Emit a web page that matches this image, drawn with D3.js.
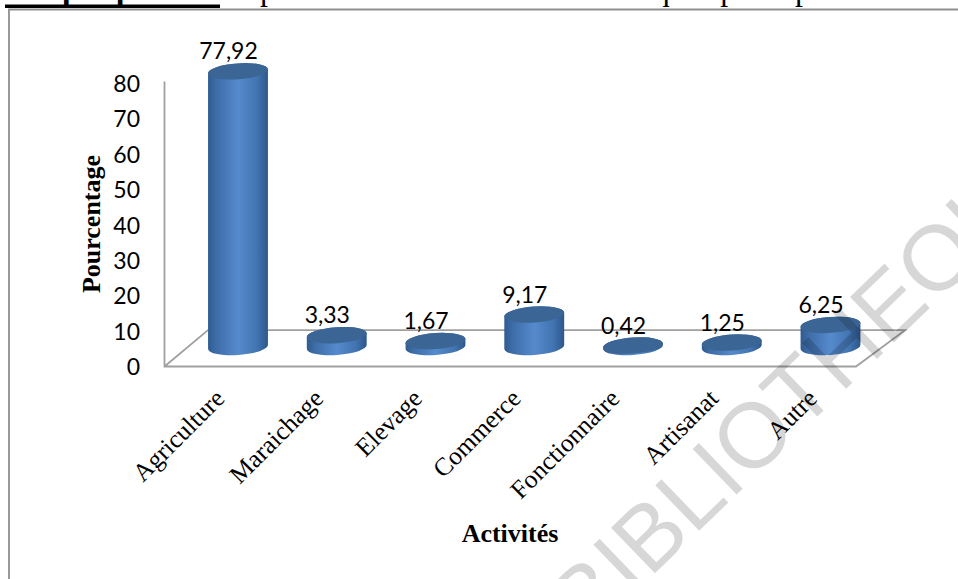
<!DOCTYPE html>
<html>
<head>
<meta charset="utf-8">
<script src="https://cdn.jsdelivr.net/npm/d3@7/dist/d3.min.js"></script>
<style>
html,body{margin:0;padding:0;background:#fff;overflow:hidden}
svg{display:block}
</style>
</head>
<body>
<svg id="chart" width="958" height="579"></svg>
<script>
// Activity shares (percent) shown as 3D-style cylinders
const categories = ["Agriculture","Maraichage","Elevage","Commerce","Fonctionnaire","Artisanat","Autre"];
const values = [77.92,3.33,1.67,9.17,0.42,1.25,6.25];
const yTicks = [0,10,20,30,40,50,60,70,80];
const captionLead = "Graphique n°3:";
const captionRest = "Importance des activités économiques principales dans le";
const stampText = "BIBLIOTHEQUE";

const serif = "'Liberation Serif','Times New Roman',serif";
const sans = "Lato,'Open Sans',sans-serif";

const svg = d3.select("#chart");
const y = d3.scaleLinear().domain([0,80]).range([366.5,83.5]);
const x = d3.scalePoint().domain(categories).range([238,830.5]);

// Floor depth and cylinder geometry
const depth = 19.5, rx = 30, ry = 8, tilt = 4;
const dx = rx*Math.cos(tilt*Math.PI/180), dy = rx*Math.sin(tilt*Math.PI/180);

const defs = svg.append("defs");
const side = defs.append("linearGradient").attr("id","side");
[[0,"#2f5b90"],[.14,"#3e6da8"],[.5,"#558acd"],[.82,"#4174b0"],[1,"#2d578a"]]
  .forEach(([o,c])=>side.append("stop").attr("offset",o).attr("stop-color",c));

// Caption running off the top edge of the page
svg.append("text").attr("x",7).attr("y",0)
  .style("font",`bold 32px ${serif}`).attr("fill","#000").text(captionLead);
svg.append("rect").attr("x",5).attr("y",4.5).attr("width",215).attr("height",3.5).attr("fill","#000");
svg.append("text").attr("x",224.5).attr("y",0)
  .style("font",`32px ${serif}`).attr("fill","#000").text(captionRest);

// Outer frame, open towards the right and bottom edges
svg.append("path").attr("d","M9,590V9.5H970").attr("fill","none")
  .attr("stroke","#8e8e8e").attr("stroke-width",1.8);

// Back wall and floor
const wallX = 164.5, wallBack = 208, floorRight = 856, floorTip = 905;
const backY = y(10)-1;
const wall = svg.append("g").attr("fill","none").attr("stroke","#a0a0a0").attr("stroke-width",1.8);
wall.append("path").attr("d",`M${wallX},${y(80)-2}V${y(0)}H${floorRight}L${floorTip},${backY}H${wallBack}L${wallX},${y(0)}`);

// Tick labels
const axis = d3.axisLeft(y).tickValues(yTicks).tickSize(0).tickPadding(0);
const axisG = svg.append("g").attr("transform","translate(140,0)").call(axis);
axisG.select(".domain").remove();
axisG.selectAll("text").style("font",`23px ${sans}`).attr("fill","#000").attr("dy","0.35em");

// Cylinders
const bars = svg.append("g").selectAll("g").data(values).join("g");
bars.append("path")
  .attr("fill","url(#side)")
  .attr("d",(d,i)=>{
    const cx = x(categories[i]), b = y(0)-depth, t = b-(y(0)-y(d));
    return `M${cx-dx},${t+dy}A${rx},${ry} ${-tilt} 0 1 ${cx+dx},${t-dy}`+
           `V${b-dy}A${rx},${ry} ${-tilt} 0 1 ${cx-dx},${b+dy}Z`;
  });
bars.append("ellipse")
  .attr("fill","#3b6595")
  .attr("rx",rx).attr("ry",ry)
  .attr("transform",(d,i)=>`translate(${x(categories[i])},${y(d)-depth}) rotate(${-tilt})`);

// Value labels above each cylinder
svg.append("g").selectAll("text").data(values).join("text")
  .attr("text-anchor","middle")
  .attr("x",(d,i)=>x(categories[i])-9.5)
  .attr("y",d=>y(d)-depth-12)
  .style("font",`23px ${sans}`).attr("fill","#000")
  .text(d=>d.toFixed(2).replace(".",","));

// Slanted category labels
svg.append("g").selectAll("text").data(categories).join("text")
  .attr("text-anchor","end")
  .attr("transform",c=>`translate(${x(c)-12},400) rotate(-45)`)
  .style("font",`25.5px ${serif}`).attr("fill","#000")
  .text(c=>c);

// Axis titles
svg.append("text").attr("text-anchor","middle")
  .attr("transform","translate(100,224) rotate(-90)")
  .style("font",`bold 26px ${serif}`).attr("fill","#000").text("Pourcentage");
svg.append("text").attr("text-anchor","middle").attr("x",510).attr("y",542)
  .style("font",`bold 26px ${serif}`).attr("fill","#000").text("Activités");

// Diagonal stamp across the page
svg.append("text")
  .attr("transform","translate(587,639) rotate(-44)")
  .style("font",`92px 'Liberation Sans',Arial,sans-serif`)
  .attr("fill","#000").attr("fill-opacity",0.155)
  .text(stampText);
</script>
</body>
</html>
